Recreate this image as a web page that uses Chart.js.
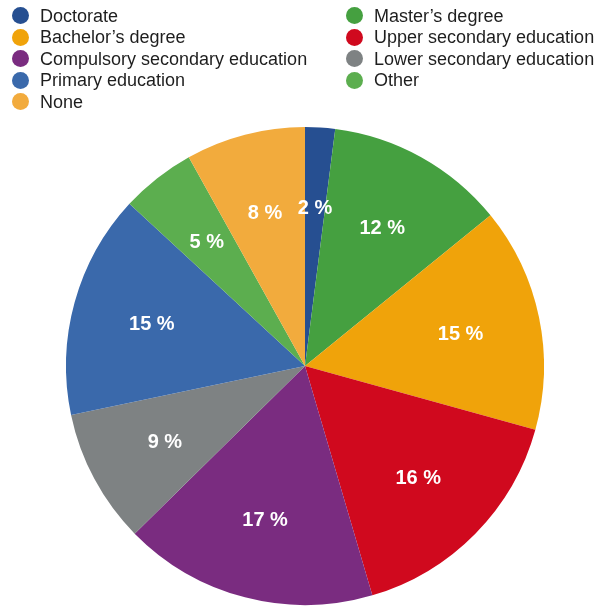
<!DOCTYPE html>
<html>
<head>
<meta charset="utf-8">
<script src="https://cdn.jsdelivr.net/npm/chart.js@4/dist/chart.umd.min.js"></script>
<style>
  html, body { margin: 0; padding: 0; background: #fff; }
  #wrap { position: relative; width: 600px; height: 609px; }
  #legend { position: absolute; left: 0; top: 0; width: 600px; height: 115px;
            font-family: "Liberation Sans", Arial, Helvetica, sans-serif; font-size: 18px; color: #1e1e1e; }
  .item { position: absolute; height: 22px; line-height: 22px; white-space: nowrap; }
  .dot { position: absolute; left: 0; top: 2.5px; width: 17px; height: 17px; border-radius: 50%; }
  .txt { position: absolute; left: 28px; top: 0; }
  canvas { position: absolute; left: 0; top: 0; }
</style>
</head>
<body>
<div id="wrap">
  <canvas id="c" width="600" height="609"></canvas>
  <div id="legend"></div>
</div>
<script>
// Education level shares (percent), clockwise from 12 o'clock
const categories = [
  "Doctorate",
  "Master\u2019s degree",
  "Bachelor\u2019s degree",
  "Upper secondary education",
  "Compulsory secondary education",
  "Lower secondary education",
  "Primary education",
  "Other",
  "None"
];
const shares = [2, 12, 15, 16, 17, 9, 15, 5, 8];
const colors = [
  "#264f91", "#45a040", "#f0a30a", "#d0091e", "#7a2c80",
  "#7e8283", "#3a69ab", "#5cae4f", "#f2ab3d"
];

// Two-column legend, filled row by row
const legendEl = document.getElementById("legend");
categories.forEach((name, i) => {
  const col = i % 2, row = Math.floor(i / 2);
  const item = document.createElement("div");
  item.className = "item";
  item.style.left = (col === 0 ? 12 : 346) + "px";
  item.style.top = (4.7 + row * 21.5) + "px";
  const dot = document.createElement("span");
  dot.className = "dot";
  dot.style.background = colors[i];
  const txt = document.createElement("span");
  txt.className = "txt";
  txt.textContent = name;
  item.appendChild(dot);
  item.appendChild(txt);
  legendEl.appendChild(item);
});

// Percent labels placed inside each slice at ~2/3 of the radius
const sliceLabels = {
  id: "sliceLabels",
  afterDatasetsDraw(chart) {
    const ctx = chart.ctx;
    const meta = chart.getDatasetMeta(0);
    ctx.save();
    ctx.fillStyle = "#ffffff";
    ctx.font = "bold 20px 'Liberation Sans', Arial, Helvetica, sans-serif";
    ctx.textAlign = "center";
    ctx.textBaseline = "middle";
    meta.data.forEach((arc, i) => {
      const p = arc.getProps(["x", "y", "startAngle", "endAngle", "outerRadius"], true);
      const mid = (p.startAngle + p.endAngle) / 2;
      const r = p.outerRadius * 0.665;
      ctx.fillText(shares[i] + " %", p.x + Math.cos(mid) * r, p.y + Math.sin(mid) * r + 1);
    });
    ctx.restore();
  }
};

new Chart(document.getElementById("c"), {
  type: "pie",
  data: {
    labels: categories,
    datasets: [{
      data: shares,
      backgroundColor: colors,
      borderWidth: 0
    }]
  },
  options: {
    responsive: false,
    animation: false,
    layout: { padding: { top: 127, bottom: 4, left: 66, right: 56 } },
    plugins: {
      legend: { display: false },
      tooltip: { enabled: false }
    }
  },
  plugins: [sliceLabels]
});
</script>
</body>
</html>
